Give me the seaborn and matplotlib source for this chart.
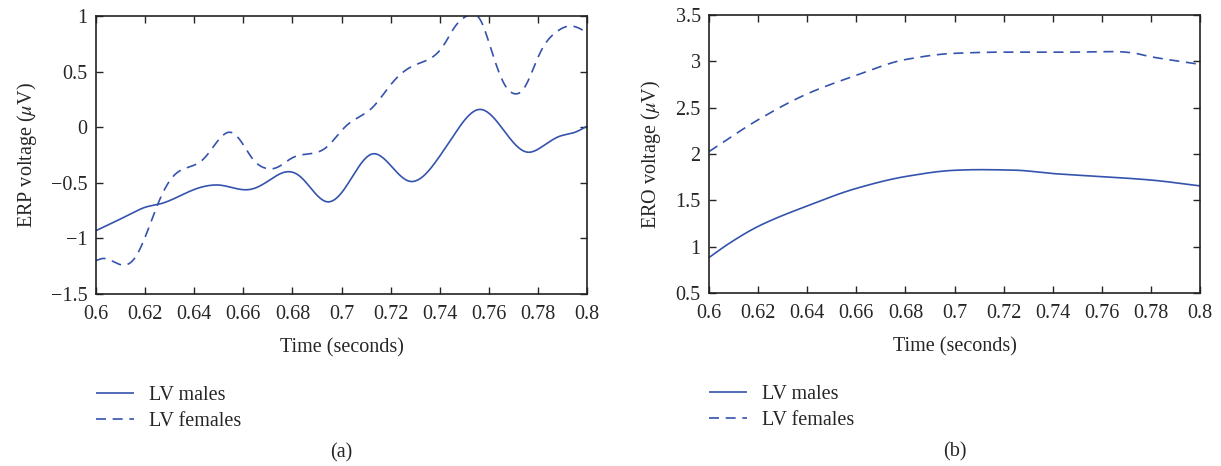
import numpy as np
import pandas as pd
import matplotlib
matplotlib.use("Agg")
import matplotlib.pyplot as plt
import seaborn as sns

# ----------------------------
# Data
# ----------------------------

erp_male_t = [0.600, 0.615, 0.620, 0.626, 0.640, 0.648, 0.650, 0.6626, 0.669, 0.678,
              0.683, 0.694, 0.700, 0.7126, 0.719, 0.7275, 0.740, 0.7455, 0.7564, 0.7632,
              0.7714, 0.776, 0.782, 0.789, 0.7945, 0.800]
erp_male_v = [-0.93, -0.77, -0.72, -0.69, -0.56, -0.52, -0.52, -0.56, -0.50, -0.40,
              -0.44, -0.67, -0.59, -0.24, -0.32, -0.485, -0.26, -0.08, 0.16, 0.054,
              -0.17, -0.225, -0.17, -0.08, -0.05, 0.01]

erp_female_t = [0.600, 0.603, 0.611, 0.616, 0.6207, 0.6254, 0.6315, 0.6369, 0.6436, 0.649,
                0.6545, 0.6585, 0.664, 0.6693, 0.6734, 0.680, 0.6882, 0.6936, 0.7018, 0.7125,
                0.7207, 0.729, 0.7355, 0.7414, 0.7464, 0.751, 0.7564, 0.7605, 0.766, 0.7707,
                0.774, 0.7809, 0.7877, 0.7932, 0.800]
erp_female_v = [-1.20, -1.18, -1.24, -1.17, -0.95, -0.68, -0.44, -0.365, -0.29, -0.14,
                -0.045, -0.11, -0.29, -0.37, -0.365, -0.275, -0.235, -0.185, 0.01, 0.175,
                0.40, 0.55, 0.61, 0.73, 0.91, 1.00, 0.97, 0.73, 0.40, 0.30,
                0.34, 0.67, 0.86, 0.91, 0.85]

ero_male_t = [0.600, 0.6084, 0.620, 0.6404, 0.660, 0.6805, 0.700, 0.710, 0.725, 0.740,
              0.760, 0.780, 0.800]
ero_male_v = [0.884, 1.04, 1.22, 1.445, 1.63, 1.76, 1.825, 1.832, 1.826, 1.79,
              1.757, 1.72, 1.657]

ero_female_t = [0.600, 0.620, 0.640, 0.660, 0.680, 0.700, 0.720, 0.740, 0.765, 0.772,
                0.780, 0.800]
ero_female_v = [2.027, 2.37, 2.65, 2.85, 3.02, 3.087, 3.10, 3.098, 3.106, 3.094,
                3.05, 2.968]

x_ticks = [0.6, 0.62, 0.64, 0.66, 0.68, 0.7, 0.72, 0.74, 0.76, 0.78, 0.8]
x_tick_labels = ["0.6", "0.62", "0.64", "0.66", "0.68", "0.7", "0.72", "0.74", "0.76", "0.78", "0.8"]
erp_ticks = [-1.5, -1, -0.5, 0, 0.5, 1]
erp_tick_labels = ["\u22121.5", "\u22121", "\u22120.5", "0", "0.5", "1"]
ero_ticks = [0.5, 1, 1.5, 2, 2.5, 3, 3.5]
ero_tick_labels = ["0.5", "1", "1.5", "2", "2.5", "3", "3.5"]

groups = ["LV males", "LV females"]


def spline(t, v, n=400):
    # natural cubic spline through the read points
    t = np.asarray(t, dtype=float)
    v = np.asarray(v, dtype=float)
    h = np.diff(t)
    m = len(t)
    A = np.zeros((m, m))
    b = np.zeros(m)
    A[0, 0] = A[-1, -1] = 1
    for i in range(1, m - 1):
        A[i, i - 1] = h[i - 1]
        A[i, i] = 2 * (h[i - 1] + h[i])
        A[i, i + 1] = h[i]
        b[i] = 6 * ((v[i + 1] - v[i]) / h[i] - (v[i] - v[i - 1]) / h[i - 1])
    M = np.linalg.solve(A, b)
    tt = np.linspace(t[0], t[-1], n)
    idx = np.clip(np.searchsorted(t, tt) - 1, 0, m - 2)
    dx = tt - t[idx]
    hi = h[idx]
    a = (M[idx + 1] - M[idx]) / (6 * hi)
    c = (v[idx + 1] - v[idx]) / hi - hi * (2 * M[idx] + M[idx + 1]) / 6
    return tt, v[idx] + c * dx + M[idx] / 2 * dx ** 2 + a * dx ** 3


def pchip(t, v, n=400):
    # shape-preserving cubic for the flat ERO curves
    t = np.asarray(t, dtype=float)
    v = np.asarray(v, dtype=float)
    h = np.diff(t)
    d = np.diff(v) / h
    m = np.zeros_like(v)
    for i in range(1, len(v) - 1):
        if d[i - 1] * d[i] > 0:
            w1 = 2 * h[i] + h[i - 1]
            w2 = h[i] + 2 * h[i - 1]
            m[i] = (w1 + w2) / (w1 / d[i - 1] + w2 / d[i])
    m[0] = d[0]
    m[-1] = d[-1]
    tt = np.linspace(t[0], t[-1], n)
    idx = np.clip(np.searchsorted(t, tt) - 1, 0, len(t) - 2)
    s = (tt - t[idx]) / h[idx]
    h00 = 2 * s ** 3 - 3 * s ** 2 + 1
    h10 = s ** 3 - 2 * s ** 2 + s
    h01 = -2 * s ** 3 + 3 * s ** 2
    h11 = s ** 3 - s ** 2
    vv = h00 * v[idx] + h10 * h[idx] * m[idx] + h01 * v[idx + 1] + h11 * h[idx] * m[idx + 1]
    return tt, vv


def build(male_t, male_v, female_t, female_v, fn):
    frames = []
    for name, t, v in [(groups[0], male_t, male_v), (groups[1], female_t, female_v)]:
        tt, vv = fn(t, v)
        frames.append(pd.DataFrame({"time": tt, "value": vv, "group": name}))
    return pd.concat(frames, ignore_index=True)


df_erp = build(erp_male_t, erp_male_v, erp_female_t, erp_female_v, spline)
df_ero = build(ero_male_t, ero_male_v, ero_female_t, ero_female_v, pchip)

# ----------------------------
# Plot
# ----------------------------

sns.set_theme(style="ticks")
plt.rcParams["font.family"] = ["Liberation Serif", "DejaVu Serif"]
plt.rcParams["mathtext.fontset"] = "stix"

blue = "#3553ad"
fs = 14.5

fig = plt.figure(figsize=(12.21, 4.66), dpi=100)
ax1 = fig.add_axes([0.0786, 0.369, 0.4022, 0.5967])
ax2 = fig.add_axes([0.5807, 0.371, 0.4021, 0.5967])

panels = [
    (ax1, df_erp, "ERP voltage ($\\mu$V)", (-1.5, 1), erp_ticks, erp_tick_labels, "(a)"),
    (ax2, df_ero, "ERO voltage ($\\mu$V)", (0.5, 3.5), ero_ticks, ero_tick_labels, "(b)"),
]

for ax, data, ylabel, ylim, yt, ytl, tag in panels:
    sns.lineplot(
        data=data, x="time", y="value", hue="group", style="group",
        palette=[blue, blue], dashes=[(1, 0), (6, 4)], linewidth=1.2,
        sort=False, ax=ax, legend=True
    )
    ax.set_xlim(0.6, 0.8)
    ax.set_ylim(*ylim)
    ax.set_xticks(x_ticks)
    ax.set_xticklabels(x_tick_labels, fontsize=fs)
    ax.set_yticks(yt)
    ax.set_yticklabels(ytl, fontsize=fs)
    ax.set_xlabel("Time (seconds)", fontsize=fs, labelpad=10)
    ax.set_ylabel(ylabel, fontsize=fs, labelpad=9)
    ax.tick_params(axis="x", direction="in", top=True, length=5, width=1, pad=8)
    ax.tick_params(axis="y", direction="in", right=True, length=5, width=1, pad=6)
    for s in ax.spines.values():
        s.set_linewidth(1.2)
        s.set_color("#222222")

    handles, labels = ax.get_legend_handles_labels()
    ax.get_legend().remove()
    ax.legend(handles, labels, loc="upper left", bbox_to_anchor=(0.0, -0.33),
              frameon=False, fontsize=fs, handlelength=1.9, handletextpad=0.75,
              labelspacing=0.35, borderaxespad=0, borderpad=0)
    ax.text(0.5, -0.572, tag, transform=ax.transAxes, ha="center", va="center", fontsize=fs)

plt.savefig("out.png", dpi=100)
